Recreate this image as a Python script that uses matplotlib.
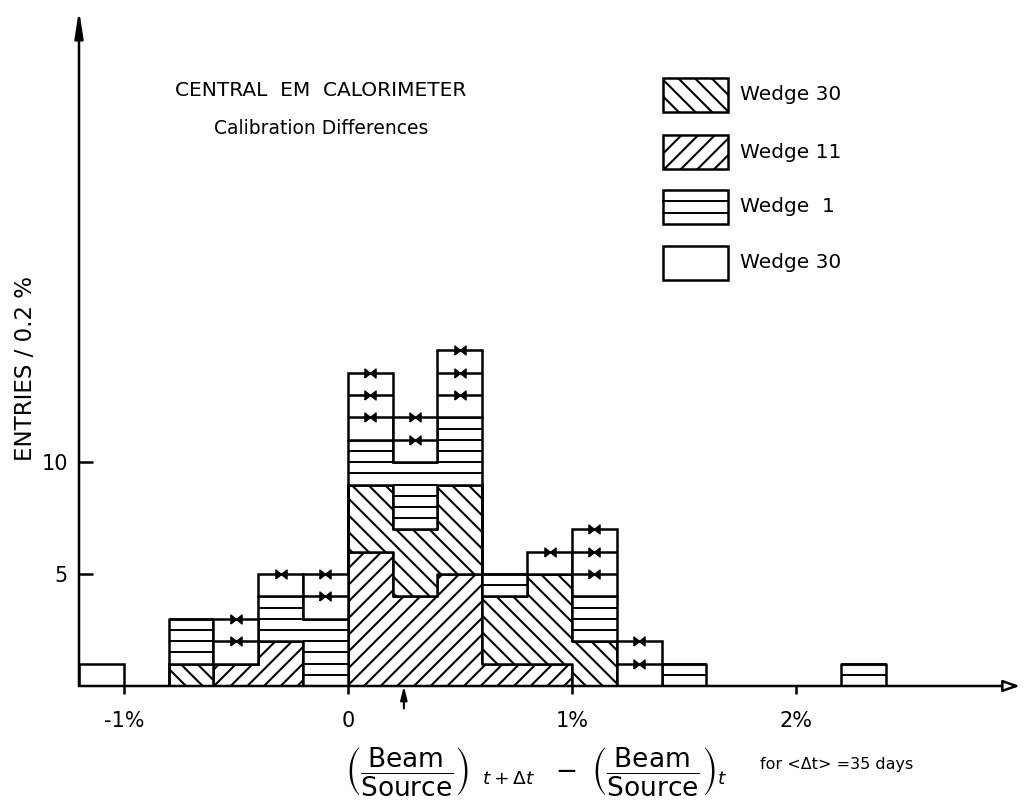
import numpy as np
import matplotlib.pyplot as plt
from matplotlib.patches import Rectangle
from matplotlib.path import Path

plt.rcParams['font.family'] = ['DejaVu Sans']
plt.rcParams['mathtext.fontset'] = 'dejavusans'
plt.rcParams['hatch.linewidth'] = 1.5

# histogram bins, 0.2 % wide
bin_edges = np.round(np.arange(-1.2, 2.41, 0.2), 2)

# entries per bin, stacked from the bottom up
wedge11 = [0, 0, 0, 1, 2, 0, 6, 4, 5, 1, 1, 0, 0, 0, 0, 0, 0, 0]
wedge30_hatched = [0, 0, 1, 0, 0, 0, 3, 3, 4, 3, 4, 2, 0, 0, 0, 0, 0, 0]
wedge1 = [0, 0, 2, 0, 2, 3, 2, 3, 3, 1, 0, 2, 0, 1, 0, 0, 0, 1]
wedge30_open = [1, 0, 0, 2, 1, 2, 3, 2, 3, 0, 1, 3, 2, 0, 0, 0, 0, 0]
# open entries carrying a cross mark
crosses = [0, 0, 0, 2, 1, 2, 3, 2, 3, 0, 1, 3, 2, 0, 0, 0, 0, 0]

x_ticks = [-1, 0, 1, 2]
x_ticklabels = ['-1%', '0', '1%', '2%']
y_ticks = [5, 10]
mean_shift = 0.25

legend_labels = ['Wedge 30', 'Wedge 11', 'Wedge  1', 'Wedge 30']

W, H = 1027, 807
fig = plt.figure(figsize=(W / 100, H / 100), dpi=100)
ax = fig.add_axes([79 / W, 1 - 686 / H, 941 / W, 676 / H])
ax.set_xlim(-1.2, 3.0)
ax.set_ylim(0, 30.2)

left = bin_edges[:-1]
width = np.diff(bin_edges)
centers = left + width / 2


def ext(a):
    return np.append(a, a[-1])


lw = 1.8
base = np.zeros(len(left))
lows = []
for counts, hatch in zip([wedge11, wedge30_hatched, wedge1], ['//', '\\\\', None]):
    top = base + np.array(counts)
    ax.fill_between(bin_edges, ext(base), ext(top), step='post', facecolor='white',
                    edgecolor='black', hatch=hatch, linewidth=lw, zorder=2)
    lows.append(base)
    base = top

# horizontal shading of wedge 1, every half entry
w1_low = lows[2]
for i in range(len(left)):
    for k in range(1, 2 * wedge1[i]):
        ax.hlines(w1_low[i] + 0.5 * k, bin_edges[i], bin_edges[i + 1],
                  color='black', linewidth=1.4, zorder=3)

# open wedge 30 entries as boxes
ax.bar(left, wedge30_open, width=width, bottom=base, align='edge', facecolor='white',
       edgecolor='black', linewidth=lw, zorder=3)
for i in range(len(left)):
    for k in range(1, wedge30_open[i]):
        ax.hlines(base[i] + k, bin_edges[i], bin_edges[i + 1], color='black',
                  linewidth=lw, zorder=3)

total = base + np.array(wedge30_open)
bowtie = Path([(-1, -0.8), (-1, 0.8), (0, 0), (1, 0.8), (1, -0.8), (0, 0), (-1, -0.8)])
for i in range(len(left)):
    for k in range(crosses[i]):
        ax.plot(centers[i], total[i] - k, marker=bowtie, markersize=8, color='black',
                linestyle='none', zorder=4)

# axes drawn as arrows
for s in ax.spines.values():
    s.set_visible(False)
ax.annotate('', xy=(0, 1), xytext=(0, 0), xycoords='axes fraction',
            arrowprops=dict(arrowstyle='-|>,head_length=1.6,head_width=0.25',
                            color='black', lw=lw, shrinkA=0, shrinkB=0))
ax.annotate('', xy=(1, 0), xytext=(0, 0), xycoords='axes fraction',
            arrowprops=dict(arrowstyle='-|>,head_length=1.0,head_width=0.35',
                            fc='white', ec='black', lw=lw, shrinkA=0, shrinkB=0))

ax.set_xticks(x_ticks)
ax.set_xticklabels(x_ticklabels)
ax.set_yticks(y_ticks)
ax.tick_params(axis='x', direction='out', length=6, width=lw, labelsize=15, pad=12)
ax.tick_params(axis='y', direction='in', length=10, width=lw, labelsize=15, pad=8)
ax.set_ylabel('ENTRIES / 0.2 %', fontsize=16.5)
ax.yaxis.set_label_coords(-0.045, 0.47)

# mean shift marker below the axis
ax.annotate('', xy=(mean_shift, 0), xytext=(mean_shift, -1.0), xycoords='data',
            arrowprops=dict(arrowstyle='-|>,head_length=0.8,head_width=0.2',
                            color='black', lw=1.5, shrinkA=0, shrinkB=0),
            annotation_clip=False)

fig.text(321 / W, 1 - 90 / H, 'CENTRAL  EM  CALORIMETER', ha='center', va='center', fontsize=14.5)
fig.text(321 / W, 1 - 128 / H, 'Calibration Differences', ha='center', va='center', fontsize=13.5)

# legend
box_tops = [78, 135, 190, 246]
box_h = 34
styles = [('\\\\', 0), ('//', 0), (None, 2), (None, 0)]
for top_px, label, (hatch, nlines) in zip(box_tops, legend_labels, styles):
    y0 = 1 - (top_px + box_h) / H
    fig.add_artist(Rectangle((663 / W, y0), 65 / W, box_h / H, transform=fig.transFigure,
                             facecolor='white', edgecolor='black', hatch=hatch, linewidth=lw))
    for k in range(1, nlines + 1):
        yy = 1 - (top_px + k * box_h / (nlines + 1)) / H
        fig.add_artist(plt.Line2D([663 / W, 728 / W], [yy, yy], transform=fig.transFigure,
                                  color='black', linewidth=1.4))
    fig.text(740 / W, 1 - (top_px + box_h / 2) / H, label, ha='left', va='center', fontsize=14.5)

xlabel_math = (r'$\left(\dfrac{\mathrm{Beam}}{\mathrm{Source}}\right)_{\ \ t+\Delta t}'
               r'\ \ -\ \left(\dfrac{\mathrm{Beam}}{\mathrm{Source}}\right)_{t}$')
fig.text(345 / W, 1 - 772 / H, xlabel_math, ha='left', va='center', fontsize=19)
fig.text(760 / W, 1 - 764 / H, 'for <Δt> =35 days', ha='left', va='center', fontsize=11.5)

fig.savefig('out.png', dpi=100)
